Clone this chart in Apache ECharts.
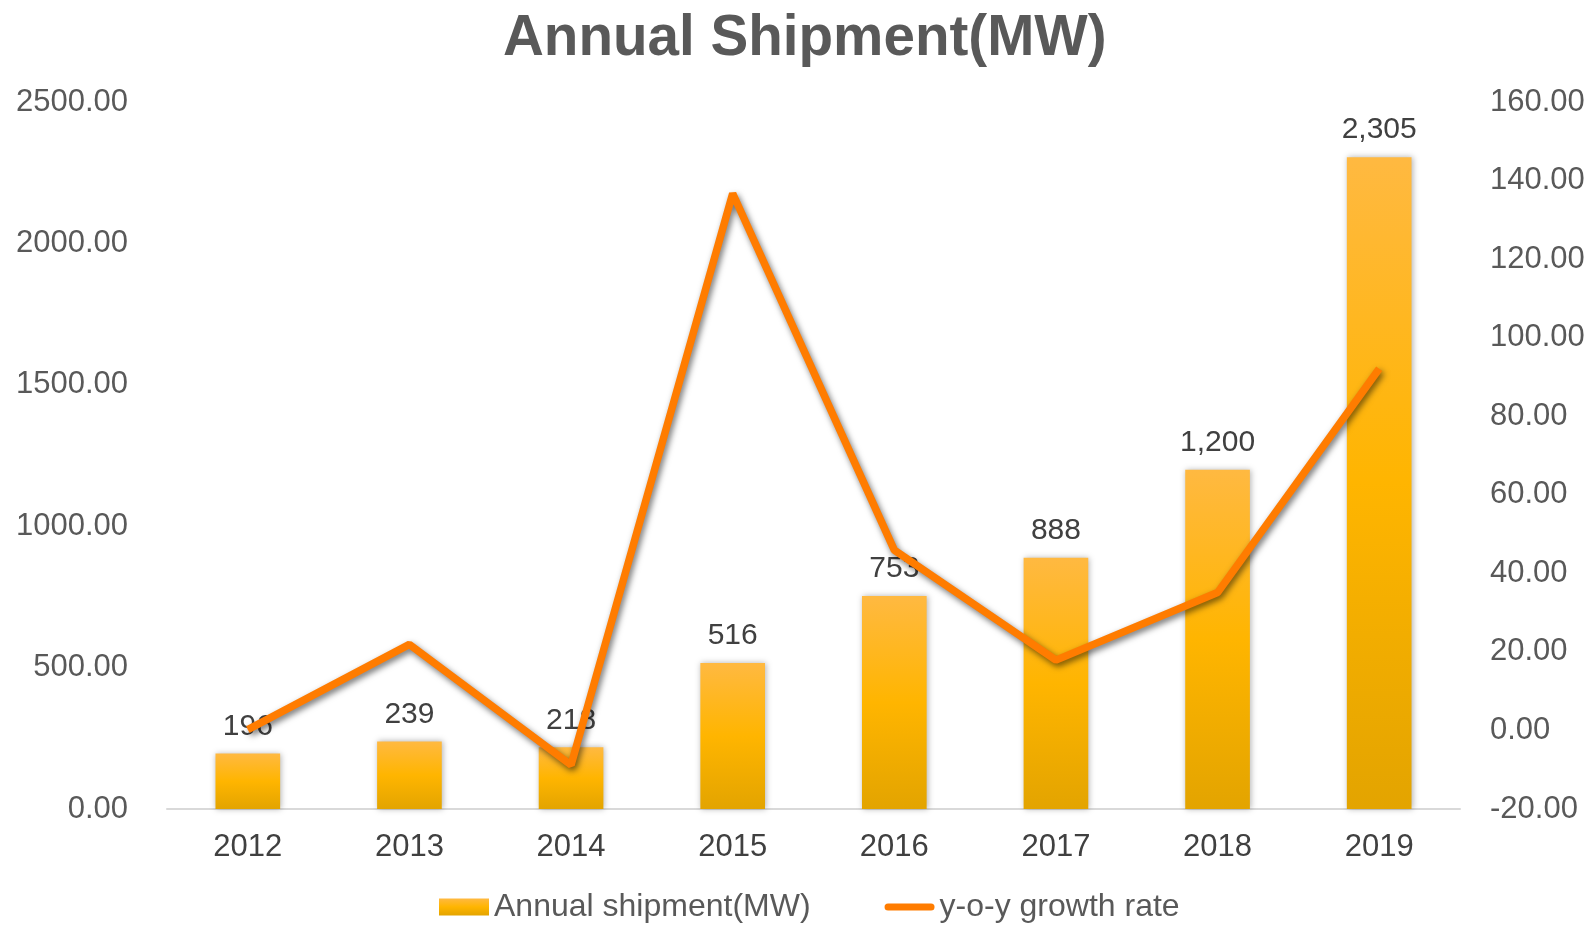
<!DOCTYPE html>
<html>
<head>
<meta charset="UTF-8">
<title>Annual Shipment(MW)</title>
<style type="text/css">
	html, body { margin: 0; padding: 0; background: #fff; }
	#main { width: 1591px; height: 926px; }
</style>
</head>
<body>
<div id="main"></div>
<script src="https://cdn.jsdelivr.net/npm/echarts@6/dist/echarts.min.js"></script>
<script type="text/javascript">
var years = ['2012', '2013', '2014', '2015', '2016', '2017', '2018', '2019'];
var shipment = [196, 239, 218, 516, 753, 888, 1200, 2305];
var growth = [0.2, 21.9, -8.8, 136.7, 45.9, 17.9, 35.1, 92.1];
var leftTicks = { min: 0, max: 2500, interval: 500 };
var rightTicks = { min: -20, max: 160, interval: 20 };

var font = 'Liberation Sans, Arial, sans-serif';

function thousands(v) {
	return String(v).replace(/\B(?=(\d{3})+(?!\d))/g, ',');
}

var myChart = echarts.init(document.getElementById('main'));

var barColor = new echarts.graphic.LinearGradient(0, 0, 0, 1, [
	{ offset: 0, color: '#ffb941' },
	{ offset: 0.5, color: '#ffb500' },
	{ offset: 1, color: '#e3a400' }
]);

var option = {
	backgroundColor: '#fff',
	animation: false,
	title: {
		text: 'Annual Shipment(MW)',
		left: 498,
		top: 6,
		textStyle: {
			fontFamily: font,
			fontSize: 56.6,
			fontWeight: 'bold',
			color: '#595959'
		}
	},
	legend: {
		bottom: -2,
		left: 434,
		itemWidth: 50,
		itemHeight: 17,
		itemGap: 74,
		textStyle: { fontFamily: font, fontSize: 32, color: '#595959' },
		data: [
			{ name: 'Annual shipment(MW)', icon: 'rect' },
			{
				name: 'y-o-y growth rate',
				icon: 'path://M3.5,0 H46.5 A3.5,3.5 0 0 1 46.5,7 H3.5 A3.5,3.5 0 0 1 3.5,0 Z',
				itemStyle: { color: '#ff7c00', borderWidth: 0 }
			}
		]
	},
	grid: {
		left: 167,
		right: 131,
		top: 102,
		bottom: 117
	},
	xAxis: {
		type: 'category',
		data: years,
		axisLine: { lineStyle: { color: '#d9d9d9', width: 2 } },
		axisTick: { show: false },
		axisLabel: { fontFamily: font, fontSize: 31, color: '#404040', margin: 23 }
	},
	yAxis: [{
		type: 'value',
		min: leftTicks.min,
		max: leftTicks.max,
		interval: leftTicks.interval,
		splitLine: { show: false },
		axisLine: { show: false },
		axisTick: { show: false },
		axisLabel: {
			fontFamily: font, fontSize: 31, color: '#595959', margin: 39,
			formatter: function (v) { return v.toFixed(2); }
		}
	}, {
		type: 'value',
		min: rightTicks.min,
		max: rightTicks.max,
		interval: rightTicks.interval,
		splitLine: { show: false },
		axisLine: { show: false },
		axisTick: { show: false },
		axisLabel: {
			fontFamily: font, fontSize: 31, color: '#595959', margin: 30,
			formatter: function (v) { return v.toFixed(2); }
		}
	}],
	series: [{
		name: 'Annual shipment(MW)',
		type: 'bar',
		barWidth: '40%',
		data: shipment,
		itemStyle: {
			color: barColor,
			shadowColor: 'rgba(0,0,0,0.3)',
			shadowBlur: 6,
			shadowOffsetX: 1
		},
		label: {
			show: true,
			position: 'top',
			distance: 12,
			fontFamily: font,
			fontSize: 30,
			color: '#404040',
			formatter: function (p) { return thousands(p.value); }
		}
	}, {
		name: 'y-o-y growth rate',
		type: 'line',
		yAxisIndex: 1,
		data: growth,
		symbol: 'none',
		lineStyle: {
			color: '#ff7c00',
			width: 7.5,
			shadowColor: 'rgba(0,0,0,0.55)',
			shadowBlur: 6,
			shadowOffsetX: 2,
			shadowOffsetY: 3
		},
		itemStyle: { color: '#ff7c00' }
	}]
};

myChart.setOption(option);
</script>
</body>
</html>
